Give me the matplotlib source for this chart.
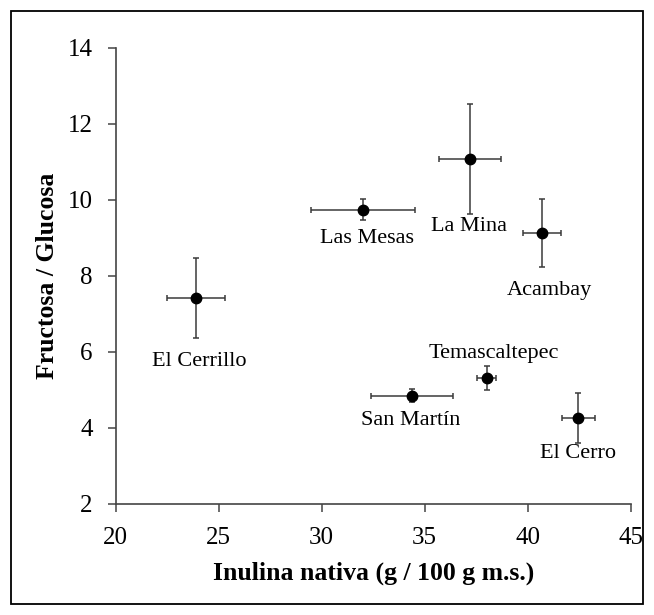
import matplotlib
matplotlib.use("Agg")
import matplotlib.pyplot as plt
from matplotlib.patches import Rectangle

# ====================
# DATOS
# ====================
localidades = ["El Cerrillo", "Las Mesas", "La Mina", "Acambay",
               "Temascaltepec", "San Martín", "El Cerro"]
inulina = [23.9, 32.02, 37.2, 40.69, 38.01, 34.37, 42.46]
inulina_err = [1.4, 2.52, 1.5, 0.91, 0.47, 2.0, 0.79]
fg_ratio = [7.42, 9.74, 11.08, 9.13, 5.32, 4.85, 4.26]
fg_err = [1.06, 0.28, 1.44, 0.89, 0.32, 0.18, 0.65]

# posicion de las etiquetas (linea base, en unidades de datos)
etiqueta_x = [24.04, 32.18, 37.17, 41.03, 38.35, 34.34, 42.46]
etiqueta_y = [5.64, 8.86, 9.19, 7.50, 5.83, 4.08, 3.20]

plt.rcParams['font.family'] = ['Liberation Serif', 'DejaVu Serif']

# ====================
# GRAFICA
# ====================
fig = plt.figure(figsize=(6.54, 6.15), dpi=100)
ax = fig.add_axes([0.1769, 0.1805, 0.7875, 0.7419])

ax.errorbar(inulina, fg_ratio, xerr=inulina_err, yerr=fg_err,
            fmt='o', color='black', ecolor='#3a3a3a', elinewidth=1.1,
            capsize=2.5, capthick=1.1, markersize=7.5)

for nombre, lx, ly in zip(localidades, etiqueta_x, etiqueta_y):
    ax.text(lx, ly, nombre, ha='center', va='baseline', fontsize=16)

ax.set_xlim(20, 45)
ax.set_ylim(2, 14)
ax.set_xticks(range(20, 46, 5))
ax.set_yticks(range(2, 15, 2))
ax.tick_params(labelsize=18, direction='out', length=5.5, color='#444444', width=1.1)
ax.tick_params(axis='y', pad=11)
ax.tick_params(axis='x', pad=11)
for lado in ['top', 'right']:
    ax.spines[lado].set_visible(False)
for lado in ['left', 'bottom']:
    ax.spines[lado].set_color('#444444')
    ax.spines[lado].set_linewidth(1.2)

ax.set_xlabel("Inulina nativa (g / 100 g m.s.)", fontsize=18.5, fontweight='bold', labelpad=9)
ax.set_ylabel("Fructosa / Glucosa", fontsize=18.5, fontweight='bold', labelpad=6)

# marco de la figura
fig.patches.append(Rectangle((0.0168, 0.0179), 0.966, 0.964, transform=fig.transFigure,
                             fill=False, edgecolor='black', linewidth=1.3))

fig.savefig("out.png", dpi=100)
